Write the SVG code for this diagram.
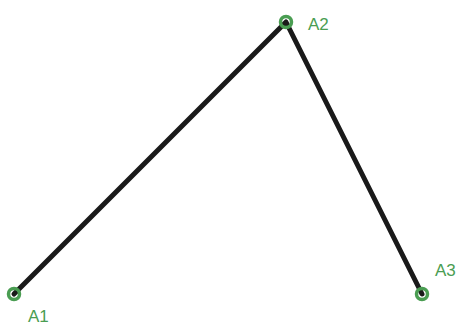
<svg xmlns="http://www.w3.org/2000/svg" width="460" height="327" viewBox="0 0 460 327">
<style>
.pt{fill:none;stroke:#4a9d52;stroke-width:3.5}
.lbl{font-family:"Liberation Sans",Arial,sans-serif;font-size:17px;fill:#4a9d52}
.edge{fill:none;stroke:#1a1a1a;stroke-width:5;stroke-linecap:round;stroke-linejoin:round}
</style>
<rect width="460" height="327" fill="#fff"/>
<g id="connectors">
<polyline class="edge" points="14,294 286,22 422,294"/>
</g>
<g id="A1"><circle class="pt" cx="14" cy="294" r="5.5"/><text class="lbl" x="28" y="322">A1</text></g>
<g id="A2"><circle class="pt" cx="286" cy="22" r="5.5"/><text class="lbl" x="308" y="30">A2</text></g>
<g id="A3"><circle class="pt" cx="422" cy="294" r="5.5"/><text class="lbl" x="435" y="276">A3</text></g>
</svg>
